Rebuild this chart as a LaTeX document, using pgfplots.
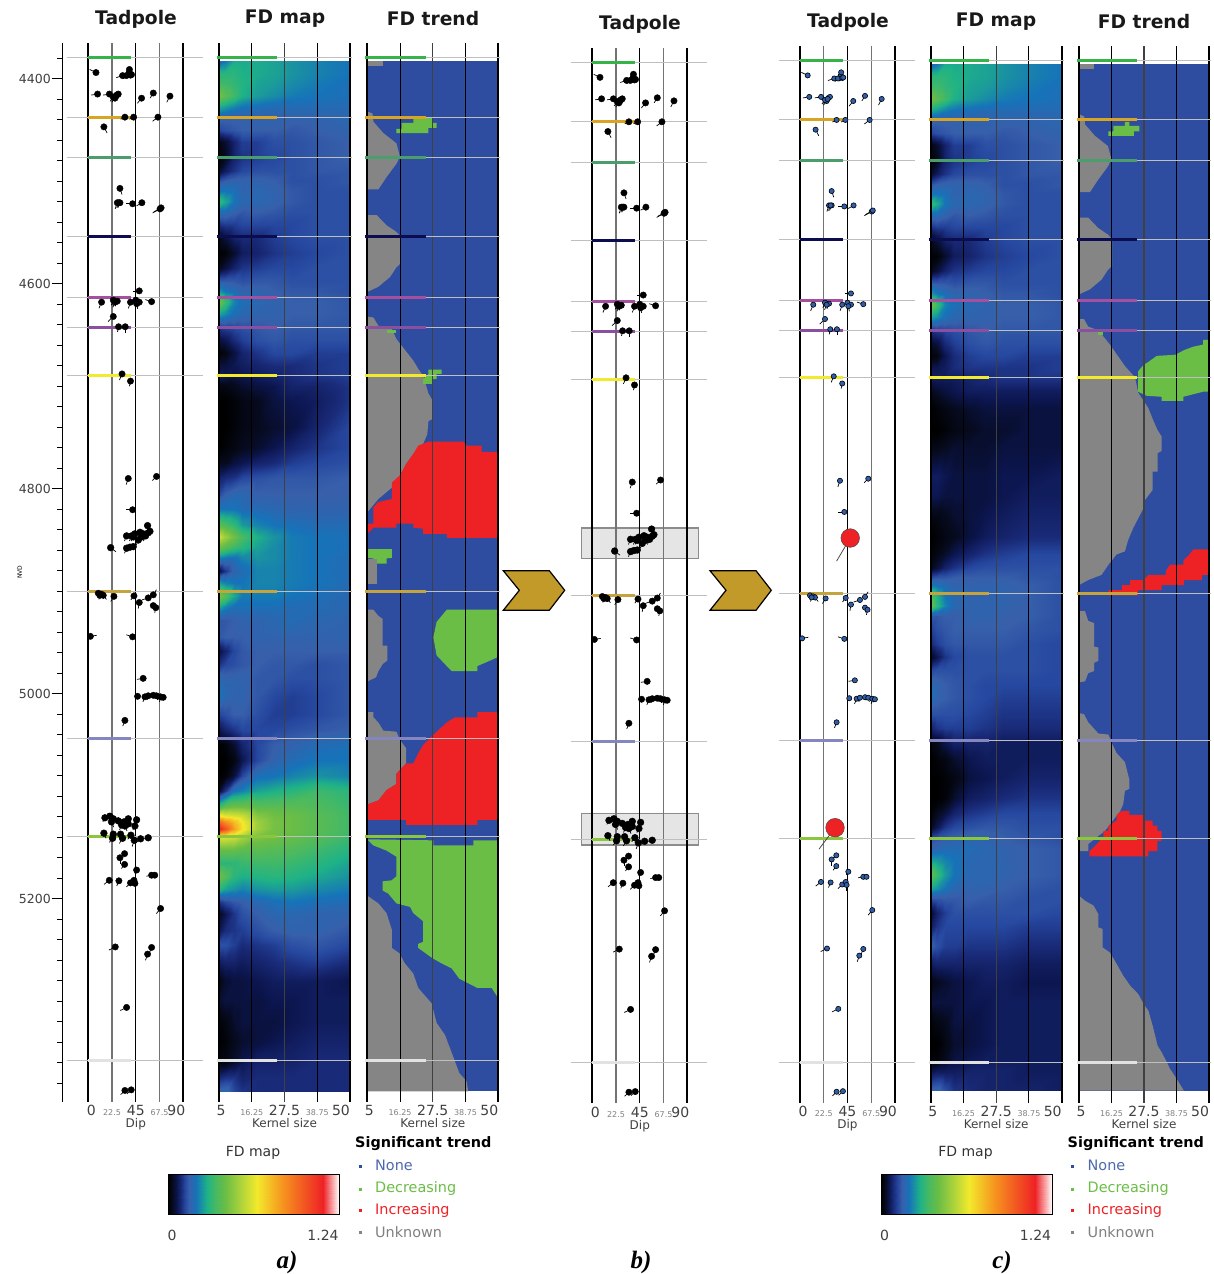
\documentclass[border=0pt]{standalone}
\usepackage{pgfplots}
\usepackage{pgfplotstable}
\usepackage{fontspec}
\pgfplotsset{compat=1.18}
\setmainfont{DejaVu Sans}
\newfontfamily\capfont{Liberation Serif}
\newcommand\fs[1]{\fontsize{#1}{#1}\selectfont}
\definecolor{tblue}{RGB}{46,77,160}
\definecolor{tgray}{RGB}{133,133,133}
\definecolor{tgreen}{RGB}{106,189,69}
\definecolor{tred}{RGB}{238,33,37}
\definecolor{tadblue}{RGB}{47,95,170}
\definecolor{hz1}{RGB}{54,180,74}
\definecolor{hz2}{RGB}{217,164,34}
\definecolor{hz3}{RGB}{75,158,107}
\definecolor{hz4}{RGB}{12,12,80}
\definecolor{hz5}{RGB}{165,80,159}
\definecolor{hz6}{RGB}{138,79,158}
\definecolor{hz7}{RGB}{242,234,44}
\definecolor{hz8}{RGB}{197,164,64}
\definecolor{hz9}{RGB}{133,133,192}
\definecolor{hz10}{RGB}{140,198,63}
\definecolor{hz11}{RGB}{226,226,226}
\pgfplotsset{colormap={fd}{
 rgb255(0cm)=(0,0,0); rgb255(3cm)=(6,10,28); rgb255(6cm)=(12,22,80); rgb255(9cm)=(25,42,120);
 rgb255(12cm)=(38,72,160); rgb255(15cm)=(55,95,170); rgb255(20cm)=(22,115,185); rgb255(28cm)=(30,178,135);
 rgb255(34cm)=(70,185,100); rgb255(41cm)=(106,189,69); rgb255(52cm)=(170,210,60); rgb255(64cm)=(243,233,44);
 rgb255(83cm)=(246,146,30); rgb255(112cm)=(238,33,37); rgb255(124cm)=(255,255,255)}}
% tadpoles: dip, depth, tail u, tail v
\pgfplotstableread{
dip depth u v
7.3 4394 -6 -3
32.5 4397 -6 2
38.8 4394 -3 3
36 4397 -3 3
40 4396.5 -3 3
39 4391 -3 3
41 4396 -3 3
8.8 4415 -6 1
20 4415 -6 1
25.3 4419 -3 4
27 4416 -3 4
28.4 4415 -3 4
23.7 4418 -3 4
26.2 4417 -3 4
50.5 4419 -4 5
61.6 4414 -3 5
77.4 4417 -3 6
34.7 4437.5 -4 2
43 4437.5 -4 2
66 4437.5 -5 4
14.8 4447 3 6
30 4507 2 6
27.5 4521 -2 6
30 4521 -2 5
29 4521 -2 5
42 4522 -6 0
50.8 4521 -5 3
68 4527 -7 4
69 4526 -7 4
48.3 4607 -6 0
12.6 4618 -2.5 6
23.7 4616 -2 5
27.5 4617 -2 5
25.3 4618 -2 5
40 4618 -2 6
45 4616 2 5
48.3 4618 -2 4
45.8 4619.5 1 5
60 4617.5 -6 -2
23.7 4632 -5 5
28.7 4642 -1 5
35 4642 0 6
32 4688 -2.5 6
40 4695 -1 5
37.9 4790 -2 6
64.7 4788 -4 4
42 4820.5 -6 0
9.5 4902 2 4
12.6 4903 2 4
14.2 4904 3 4
11 4904 -1 4
24.3 4905 -3 5
43.3 4904.5 -3 4
61.6 4903.5 3 -5
56.8 4906.5 -6 2
48.3 4911 -1 6
61.6 4914 1 5
64 4916 -1 5
2 4944 6 -1
42 4944.5 -6 -2
52 4985 -6 1
46.7 5002.5 -1 2
53.7 5003 -2 5
56.8 5002 -1 4
61.6 5001.5 1 3
64.7 5002 1 4
68.5 5003 -1 5
71 5003.5 -2 3
34.7 5026 -2 5.5
34.4 5156 -3 3
30 5160 0 6
34.4 5166.5 -3 4
45.8 5172 -2 3
60 5177 -5 1
63 5177 -5 1
19.9 5182 -5 4
29 5182.5 -2 5
40 5184.5 -4 4
43.3 5182 -2 3
44.2 5185 0 6
68.5 5209.5 -4 5
25.6 5247 -6 3
60 5247.5 -2 5
56.2 5254 -2 6
36.3 5306 -6 3
34.7 5387 -4 4
40.7 5386.4 -4 4
}\tadMain
\pgfplotstableread{
dip depth u v
56.2 4836 2 4
36.3 4846 -2 5
41 4846 -2 5
44.2 4844 -3 4
49 4842.5 -2 5
52 4844 -2 5
50.5 4847 -2 5
56.8 4843 -2 4
58.4 4841.5 -2 4
47.4 4850 -2 5
42.6 4847 -2 4
54.3 4846 -2 5
21.2 4857.5 5 4
36.3 4858 -2 5
39.5 4857 -2 4
42.6 4856.5 -2 3
15.8 5121 -2 4
20.5 5119.5 -2 -3
22 5125 2 5
28.4 5124 2 5
31.6 5128 -2 5
33.8 5125 1 5
34.7 5129 2 5
37.9 5122 -2 5
45.8 5123 -3 4
44.2 5129 -2 4
23.7 5122 -2 5
37.9 5127 -2 5
14.8 5136 2 5
23.7 5137 -1 5
23 5141 -3 4
30.6 5137 -1 5
32.5 5141 -3 5
40.4 5138 -3 4
43.6 5143 -2 6
49.6 5141.5 -3 3
56.8 5140.5 -4 1
}\tadCluster
% FD map rows: depth: kernel 5 7 10 13 18 24 30 38 50
\def\curdepth{}
\def\FDadd#1#2{\xdef\FDlist{\FDlist(#1,\curdepth,#2)}}
\def\R#1:#2 #3 #4 #5 #6 #7 #8 #9 {\def\curdepth{#1}\FDadd{5}{#2}\FDadd{7}{#3}\FDadd{10}{#4}\FDadd{13}{#5}\FDadd{18}{#6}\FDadd{24}{#7}\FDadd{30}{#8}\FDadd{38}{#9}\Rlast}
\def\Rlast#1;{\FDadd{50}{#1}}
\def\TopRows{%
\R 4383:.17 .2 .27 .27 .27 .26 .24 .22 .2;%
\R 4395:.30 .3 .3 .28 .27 .26 .24 .22 .2;%
\R 4405:.33 .33 .31 .29 .26 .25 .23 .21 .19;%
\R 4417:.43 .38 .33 .28 .25 .23 .21 .2 .19;%
\R 4428:.27 .25 .22 .2 .19 .18 .18 .18 .18;%
\R 4437:.17 .16 .16 .16 .16 .16 .16 .16 .17;%
\R 4450:.12 .13 .14 .15 .15 .15 .14 .15 .16;%
\R 4462:.02 .04 .08 .11 .11 .13 .13 .14 .15;%
\R 4477:.01 .03 .08 .1 .11 .12 .13 .14 .15;%
\R 4490:.04 .07 .1 .12 .13 .13 .13 .14 .14;%
\R 4500:.13 .15 .16 .16 .16 .15 .13 .13 .14;%
\R 4510:.2 .2 .19 .16 .17 .16 .14 .13 .13;%
\R 4520:.32 .27 .2 .17 .17 .16 .14 .13 .13;%
\R 4530:.18 .18 .16 .14 .15 .14 .13 .13 .13;%
\R 4542:.1 .11 .11 .12 .12 .12 .12 .13 .13;%
\R 4554:.03 .05 .08 .09 .09 .11 .12 .13 .13;%
\R 4570:.005 .01 .04 .07 .08 .1 .11 .12 .13;%
\R 4585:.03 .05 .08 .1 .11 .12 .12 .13 .13;%
\R 4597:.14 .14 .14 .13 .14 .14 .13 .13 .13;%
\R 4607:.24 .2 .18 .16 .16 .15 .14 .14 .13;%
\R 4618:.42 .33 .22 .19 .17 .16 .15 .15 .14;%
\R 4630:.26 .23 .19 .17 .16 .16 .15 .15 .14;%
\R 4643:.1 .11 .12 .13 .14 .15 .14 .14 .14;%
}
\gdef\FDlist{}
\TopRows
\R 4655:.05 .06 .09 .11 .13 .14 .13 .13 .13;
\R 4668:.01 .02 .05 .08 .1 .12 .12 .11 .11;
\R 4680:.05 .05 .06 .07 .08 .09 .09 .1 .11;
\R 4690:.07 .06 .05 .06 .07 .08 .09 .1 .11;
\R 4700:.02 .02 .03 .04 .05 .06 .08 .08 .1;
\R 4714:0 0 .01 .02 .03 .05 .06 .07 .1;
\R 4740:0 0 .01 .02 .03 .04 .05 .08 .12;
\R 4760:0 .01 .02 .03 .04 .06 .08 .1 .12;
\R 4775:.03 .03 .05 .06 .08 .09 .11 .12 .13;
\R 4790:.08 .09 .1 .12 .13 .14 .14 .14 .15;
\R 4805:.12 .15 .17 .17 .15 .15 .15 .15 .15;
\R 4820:.2 .2 .2 .18 .18 .17 .16 .16 .16;
\R 4835:.38 .35 .31 .25 .22 .2 .19 .18 .18;
\R 4847:.58 .5 .42 .35 .28 .24 .21 .2 .19;
\R 4857:.42 .38 .33 .3 .26 .23 .21 .2 .19;
\R 4868:.22 .2 .19 .22 .24 .23 .21 .2 .18;
\R 4880:.05 .1 .16 .18 .22 .22 .21 .2 .18;
\R 4892:.25 .22 .2 .2 .22 .22 .21 .2 .18;
\R 4905:.45 .38 .27 .21 .21 .21 .2 .19 .17;
\R 4915:.26 .22 .19 .19 .19 .19 .18 .18 .17;
\R 4928:.14 .14 .15 .16 .16 .17 .18 .17 .16;
\R 4945:.14 .15 .15 .15 .16 .16 .16 .16 .16;
\R 4958:.05 .08 .12 .14 .15 .15 .15 .15 .15;
\R 4972:.1 .12 .13 .14 .15 .14 .14 .13 .14;
\R 4985:.17 .16 .16 .16 .14 .14 .13 .13 .14;
\R 5003:.2 .17 .16 .16 .14 .12 .11 .12 .14;
\R 5020:.12 .13 .15 .15 .13 .11 .11 .12 .14;
\R 5035:.06 .08 .1 .12 .12 .12 .13 .14 .15;
\R 5050:0 .01 .04 .08 .12 .15 .16 .18 .19;
\R 5065:0 0 .02 .06 .12 .16 .18 .2 .2;
\R 5080:0 .01 .05 .12 .19 .2 .22 .24 .22;
\R 5095:.04 .1 .2 .22 .26 .28 .3 .33 .3;
\R 5110:.34 .4 .42 .42 .38 .38 .38 .36 .32;
\R 5119:.66 .62 .6 .58 .46 .42 .41 .38 .33;
\R 5125:.95 .85 .74 .64 .5 .43 .41 .38 .33;
\R 5132:1.12 1.0 .8 .66 .5 .43 .41 .38 .33;
\R 5140:.6 .6 .58 .52 .44 .42 .4 .37 .32;
\R 5152:.4 .4 .4 .38 .38 .37 .36 .33 .29;
\R 5165:.3 .3 .3 .32 .33 .33 .32 .3 .26;
\R 5178:.42 .37 .3 .28 .29 .3 .29 .27 .24;
\R 5190:.3 .26 .24 .22 .24 .25 .25 .23 .21;
\R 5203:.1 .12 .14 .15 .17 .19 .2 .19 .18;
\R 5215:.03 .06 .1 .13 .15 .17 .17 .16 .16;
\R 5230:.06 .09 .1 .11 .13 .15 .16 .16 .14;
\R 5245:.13 .13 .11 .09 .1 .11 .13 .14 .12;
\R 5262:.07 .08 .08 .07 .08 .09 .1 .11 .09;
\R 5280:.02 .04 .05 .05 .06 .07 .07 .07 .06;
\R 5300:.04 .05 .05 .05 .05 .06 .06 .07 .07;
\R 5320:.01 .02 .04 .05 .05 .05 .06 .07 .07;
\R 5340:0 .01 .03 .04 .05 .06 .07 .08 .08;
\R 5360:.02 .02 .04 .06 .08 .08 .08 .09 .09;
\R 5375:.09 .1 .1 .08 .09 .09 .09 .09 .09;
\R 5388:.16 .17 .12 .1 .09 .09 .09 .09 .09;
\let\FDa\FDlist
\gdef\FDlist{}
\TopRows
\R 4655:.04 .05 .09 .11 .13 .14 .13 .13 .13;
\R 4668:.01 .02 .06 .09 .11 .12 .12 .11 .11;
\R 4680:.06 .06 .07 .09 .1 .1 .1 .1 .11;
\R 4690:.07 .07 .07 .07 .08 .09 .1 .1 .1;
\R 4702:.03 .04 .05 .06 .07 .07 .07 .07 .07;
\R 4720:0 .01 .02 .03 .04 .05 .05 .05 .05;
\R 4740:0 0 .01 .02 .03 .04 .04 .05 .05;
\R 4755:.02 .02 .03 .04 .04 .04 .05 .05 .05;
\R 4785:.07 .07 .06 .05 .05 .05 .06 .06 .07;
\R 4805:.06 .06 .05 .05 .05 .05 .06 .07 .07;
\R 4825:.02 .02 .03 .04 .05 .06 .07 .08 .08;
\R 4845:0 .01 .02 .03 .05 .07 .08 .09 .09;
\R 4862:.01 .02 .04 .06 .08 .1 .11 .12 .12;
\R 4875:.03 .05 .08 .1 .12 .13 .13 .13 .13;
\R 4885:.13 .14 .14 .15 .15 .15 .15 .14 .13;
\R 4893:.22 .2 .18 .16 .16 .16 .16 .15 .13;
\R 4902:.36 .28 .2 .17 .16 .16 .16 .15 .13;
\R 4912:.4 .3 .22 .17 .16 .16 .16 .15 .13;
\R 4922:.14 .14 .15 .15 .16 .16 .15 .15 .13;
\R 4935:.11 .13 .14 .15 .15 .15 .15 .14 .13;
\R 4950:.09 .11 .13 .14 .14 .14 .14 .13 .12;
\R 4962:.03 .06 .1 .12 .13 .13 .13 .13 .12;
\R 4975:.12 .13 .13 .13 .13 .13 .13 .13 .12;
\R 4990:.17 .16 .15 .14 .13 .12 .12 .12 .12;
\R 5002:.19 .16 .15 .14 .13 .12 .11 .11 .11;
\R 5018:.13 .13 .13 .13 .12 .11 .1 .1 .1;
\R 5032:.08 .1 .11 .11 .11 .1 .09 .09 .09;
\R 5045:.02 .03 .06 .08 .08 .08 .07 .07 .07;
\R 5062:0 .01 .02 .04 .06 .07 .07 .07 .07;
\R 5080:0 0 .01 .02 .05 .06 .07 .08 .08;
\R 5100:0 0 .01 .04 .07 .08 .09 .1 .1;
\R 5115:.01 .03 .05 .08 .1 .11 .12 .12 .12;
\R 5128:.03 .06 .1 .12 .13 .14 .14 .13 .13;
\R 5140:.13 .14 .15 .16 .17 .16 .15 .14 .13;
\R 5150:.16 .17 .18 .18 .18 .17 .16 .15 .14;
\R 5162:.26 .25 .22 .2 .17 .17 .16 .15 .14;
\R 5175:.4 .32 .25 .2 .17 .17 .16 .15 .14;
\R 5188:.27 .24 .2 .17 .16 .16 .15 .14 .13;
\R 5200:.12 .13 .14 .14 .15 .14 .14 .13 .13;
\R 5212:.04 .08 .11 .13 .13 .13 .13 .13 .12;
\R 5225:.07 .1 .12 .12 .12 .12 .12 .11 .11;
\R 5245:.15 .13 .11 .11 .1 .1 .1 .09 .09;
\R 5262:.07 .08 .08 .08 .08 .08 .08 .07 .07;
\R 5280:.02 .03 .04 .05 .06 .07 .07 .06 .06;
\R 5300:.05 .05 .05 .05 .06 .06 .07 .07 .07;
\R 5320:.01 .02 .03 .05 .05 .06 .07 .07 .07;
\R 5340:0 0 .02 .04 .05 .06 .07 .07 .07;
\R 5355:.01 .01 .03 .05 .06 .07 .07 .07 .07;
\R 5368:.06 .07 .07 .07 .08 .08 .08 .07 .07;
\R 5386:.16 .17 .13 .1 .09 .08 .08 .08 .07;
\let\FDc\FDlist
% styles
\pgfplotsset{
 panel/.style={scale only axis,clip=false,anchor=south west,ymin=4365.2,ymax=5398,y dir=reverse,
   axis y line=none,axis x line*=bottom,x axis line style={draw=none},major tick length=0pt,
   xticklabel style={inner sep=0pt,yshift=-3.5pt,text height=10pt,text depth=0pt},
   every axis x label/.style={at={(axis cs:\labx,5398)},anchor=north,yshift=-13pt,font=\fs{12}\color{black!75}}},
 tadaxis/.style={panel,width=141pt,xmin=-24.9,xmax=108.7,xtick={0,22.5,45,67.5,90},
   xticklabels={\kern6pt{\fs{14}\color{black!75}0},{\fs{8}\color{black!50}22.5},{\fs{14}\color{black!75}45},{\fs{8}\color{black!50}67.5},{\fs{14}\color{black!75}90}\kern14pt},xlabel={Dip}},
 kaxis/.style={panel,width=131pt,xmin=5,xmax=50,xtick={5,16.25,27.5,38.75,50},
   xticklabels={\kern4pt{\fs{14}\color{black!75}5},{\fs{8}\color{black!50}16.25},{\fs{14}\color{black!75}27.5},{\fs{8}\color{black!50}38.75},{\fs{14}\color{black!75}50}\kern18pt},xlabel={Kernel size}},
 mapaxis/.style={scale only axis,anchor=south west,width=131pt,xmin=5,xmax=50,ymin=4365.2,ymax=5398,y dir=reverse,
   view={0}{90},hide axis,colormap name=fd,point meta min=0,point meta max=1.24},
}
\newcommand\VL[2]{\addplot[#1] coordinates {(#2,4365.2)(#2,5398)};}
\newcommand\TadGrid{\VL{black,line width=2pt}{0}\VL{black!55,line width=1.1pt}{22.5}\VL{black,line width=1pt}{45}\VL{black!55,line width=1.1pt}{67.5}\VL{black,line width=2pt}{90}}
\newcommand\KGrid{\VL{black,line width=2pt}{5}\VL{black,line width=1pt}{16.25}\VL{black!75,line width=1.1pt}{27.5}\VL{black,line width=1pt}{38.75}\VL{black,line width=2pt}{50}}
\newcommand\HZ[2]{\addplot[black!25,line width=1pt] coordinates {(\tL,#2)(\tR,#2)};\addplot[#1,line width=3pt] coordinates {(\kL,#2)(\kR,#2)};}
\newcommand\Horizons{\HZ{hz1}{4379}\HZ{hz2}{4437.5}\HZ{hz3}{4477}\HZ{hz4}{4554}\HZ{hz5}{4613.7}\HZ{hz6}{4643}\HZ{hz7}{4689.6}\HZ{hz8}{4900.6}\HZ{hz9}{5043.5}\HZ{hz10}{5139.3}\HZ{hz11}{5358}}
\newcommand\Poly[2]{\addplot[fill=#1,draw=none] coordinates {#2};}
\newcommand\TadAll{%
 \addplot[black,line width=.7pt,quiver={u=\thisrow{u},v=\thisrow{v}}] table[x=dip,y=depth] {\tadMain};
 \addplot[black,line width=.7pt,quiver={u=\thisrow{u},v=\thisrow{v}}] table[x=dip,y=depth] {\tadCluster};
 \addplot[only marks,mark=*,mark size=3.2pt,black] table[x=dip,y=depth] {\tadMain};
 \addplot[only marks,mark=*,mark size=3.4pt,black] table[x=dip,y=depth] {\tadCluster};}
\newcommand\TadSettings{\def\tL{-20}\def\tR{108.7}\def\kL{0}\def\kR{40.5}\def\labx{45}}
\newcommand\KSettings{\def\tL{4.3}\def\tR{50.7}\def\kL{4.3}\def\kR{25}\def\labx{27.5}}
\newcommand\TrendShared{%
 \Poly{tgray}{(5,4383)(10.3,4383)(10.3,4387.5)(5,4387.5)}%
 \Poly{tgray}{(5,4432)(6.8,4434)(7.1,4442)(10.5,4453)(15,4463)(16.2,4476)(15,4483)(11.6,4496)(8.8,4508)(5,4508)}%
 \Poly{tgray}{(5,4533)(8.2,4533)(11.6,4543)(15,4549.5)(16.5,4554)(16.5,4580)(15,4584)(12.8,4593.5)(8.8,4603)(5,4608)}%
}
\newcommand\PlotMap[1]{\edef\temp{\noexpand\addplot3[surf,shader=interp,mesh/cols=9] coordinates {#1};}\temp}
\begin{document}
\begin{tikzpicture}[x=1pt,y=-1pt]
\path[use as bounding box] (0,0) rectangle (1214,1274);
% ---------- panel a
\begin{axis}[scale only axis,anchor=south west,clip=false,at={(62pt,-1101.7pt)},width=141pt,height=1058.7pt,
  xmin=-24.9,xmax=108.7,ymin=4365.2,ymax=5398,y dir=reverse,hide x axis,axis y line*=left,
  y axis line style={black,line width=.8pt},
  ytick={4400,4600,4800,5000,5200},minor ytick={4380,4420,4440,4460,4480,4500,4520,4540,4560,4580,4620,4640,4660,4680,4700,4720,4740,4760,4780,4820,4840,4860,4880,4900,4920,4940,4960,4980,5020,5040,5060,5080,5100,5120,5140,5160,5180,5220,5240,5260,5280,5300,5320,5340,5360,5380},
  ytick style={black,line width=.7pt},major tick length=10pt,minor tick length=5pt,
  tick align=outside,yticklabel style={font=\fs{12.5}\color{black!75},inner sep=1pt,/pgf/number format/.cd,1000 sep={},assume math mode=true},
  ylabel={NVD},ylabel style={font=\fs{6},at={(axis description cs:-0.3,0.5)},anchor=center,rotate=0}]
\addplot[draw=none] coordinates {(0,4400)};
\end{axis}
\begin{axis}[tadaxis,at={(62pt,-1101.7pt)},height=1058.7pt]
\TadSettings
\TadGrid \Horizons \TadAll
\end{axis}
\begin{axis}[mapaxis,at={(219pt,-1101.7pt)},height=1058.7pt] \PlotMap{\FDa} \end{axis}
\begin{axis}[kaxis,at={(219pt,-1101.7pt)},height=1058.7pt]
\KSettings \KGrid \Horizons
\end{axis}
\begin{axis}[kaxis,at={(367.3pt,-1101.7pt)},height=1058.7pt]
\KSettings
\Poly{tblue}{(5,4383)(50,4383)(50,5388)(5,5388)}
\TrendShared
\Poly{tgray}{(5,4632)(7.1,4633)(8.8,4641)(13.4,4644)(15,4654)(20.8,4675)(22.5,4683)(24.2,4690)(26,4707)(27.4,4714)(27.4,4732)(26,4734)(25.6,4747)(24.2,4756)(20.8,4766)(18.3,4776)(16.2,4787)(13.4,4799)(8.8,4810)(5,4823)}
\Poly{tred}{(5,4844)(5,4834)(7.1,4834)(7.1,4818)(8.8,4813)(13.4,4810)(13.4,4794)(16.2,4787)(18.3,4776)(20.8,4766)(22.5,4758)(26,4754)(38,4754)(39.1,4758)(44.3,4758)(44.3,4764)(50,4764)(50,4848)(32.3,4848)(32.3,4844)(24.2,4844)(24.2,4839)(20.8,4838)(20.8,4834)(15,4834)(15,4838)(7.1,4838)}
\Poly{tgreen}{(5,4859)(13.4,4859)(13.4,4867.5)(11.6,4868)(11.6,4873)(7.1,4873)(7.1,4868)(5,4867.5)}
\Poly{tgray}{(5,4868.5)(8.5,4868.5)(8.5,4893)(5,4893)}
\Poly{tgreen}{(32.3,4918)(50,4918)(50,4964)(47.7,4967)(42.8,4973)(42.8,4978)(34,4978)(32.3,4973)(28.8,4962.5)(27.7,4945)(28.8,4930)}
\Poly{tgray}{(5,4918)(7.1,4918)(8.8,4924)(10.3,4927)(10.3,4953)(11.9,4953)(11.9,4967.5)(10.3,4971)(8.8,4978)(8,4984)(5,4988)}
\Poly{tgray}{(5,5018)(7.1,5018)(7.1,5023)(8.8,5028)(10.5,5036)(15,5037)(16.2,5045)(18.3,5053)(18.3,5068)(15,5078)(15,5088)(11.6,5094)(8.8,5104)(5,5108)}
\Poly{tred}{(50,5018)(42.8,5018)(42.8,5023)(35.1,5023)(32.3,5028)(28.8,5037)(24.2,5050)(22.5,5058)(20.8,5068)(18.3,5068)(15,5078)(15,5088)(11.6,5094)(8.8,5104)(5,5108)(5,5123)(18.3,5123)(18.3,5128)(42.8,5128)(42.8,5123)(50,5123)}
\Poly{tgreen}{(5,5142)(7.1,5148)(11.6,5153)(15,5159)(15,5178)(13.4,5182)(10.3,5183)(10.3,5192)(12.2,5195)(15,5204.5)(19.7,5208)(20.8,5214)(24.2,5222)(24.2,5242)(22.5,5244)(22.5,5248)(27.4,5258)(30.5,5263)(34,5268)(36.6,5278)(39.7,5282.5)(42.8,5287)(47.7,5287)(50,5297)(50,5143)(41.4,5143)(41.4,5148)(27.7,5148)(27.7,5143)}
\Poly{tgray}{(5,5197)(8.8,5204.5)(11.6,5214)(13.4,5230)(13.4,5248)(16,5253)(17.9,5263)(20.8,5273)(22.5,5287)(27.1,5302)(28.8,5321)(31.7,5333)(34.5,5354)(36.6,5370)(39.1,5378)(39.7,5388)(5,5388)}
\Poly{tgreen}{(15,4453)(15,4449)(16.8,4449)(16.8,4443)(20.8,4443)(20.8,4438)(27.4,4438)(27.4,4443)(28.8,4443)(28.8,4448)(26,4448)(26,4453)}
\Poly{tgreen}{(11.9,4645.6)(15,4645.6)(15,4648)(11.9,4648)}
\Poly{tgreen}{(26,4683.7)(30.5,4683.7)(30.5,4688)(28.8,4688)(28.8,4693)(27.4,4693)(27.4,4697.7)(24.2,4697.7)(24.2,4693)(26,4688)}
\KGrid \Horizons
\end{axis}
% ---------- panel b
\draw[fill=black!10,draw=black!45,line width=1.5pt] (581.7,528) rectangle (698.3,558.3);
\draw[fill=black!10,draw=black!45,line width=1.5pt] (581.7,813.3) rectangle (698.3,845);
\begin{axis}[tadaxis,at={(566pt,-1103.4pt)},height=1055.5pt]
\TadSettings
\TadGrid \Horizons \TadAll
\end{axis}
% ---------- panel c
\begin{axis}[tadaxis,at={(773.7pt,-1103pt)},height=1057.1pt]
\TadSettings
\TadGrid \Horizons
\addplot[black,line width=.7pt,quiver={u=\thisrow{u},v=\thisrow{v}}] table[x=dip,y=depth] {\tadMain};
\addplot[only marks,mark=*,mark size=2.6pt,fill=tadblue,draw=black,line width=.6pt] table[x=dip,y=depth] {\tadMain};
\addplot[black!70,line width=.8pt,quiver={u=\thisrow{u},v=\thisrow{v}}] table[x=dip,y=depth] {
dip depth u v
47.6 4846 -12.9 22.5
33.2 5129 -15.2 21
};
\addplot[only marks,mark=*,mark size=9.3pt,fill=tred,draw=black!70,line width=.5pt] coordinates {(47.6,4846)(33.2,5129)};
\end{axis}
\begin{axis}[mapaxis,at={(930.7pt,-1103pt)},height=1057.1pt] \PlotMap{\FDc} \end{axis}
\begin{axis}[kaxis,at={(930.7pt,-1103pt)},height=1057.1pt]
\KSettings \KGrid \Horizons
\end{axis}
\begin{axis}[kaxis,at={(1079pt,-1103pt)},width=130pt,height=1057.1pt]
\KSettings
\Poly{tblue}{(5,4383)(50,4383)(50,5386)(5,5386)}
\TrendShared
\Poly{tgray}{(5,4632)(6.7,4632)(8.2,4639.5)(11.7,4643)(15.7,4657)(20.9,4678)(24.4,4689)(25.5,4704)(29,4719)(30.7,4731)(32.1,4740)(33.6,4747)(33.6,4761)(32.2,4763)(32.2,4781)(30.5,4781)(30.5,4799)(27.8,4809)(27.3,4817)(23.8,4836)(22,4848)(20.9,4859)(18,4862)(15.2,4872)(12.8,4882)(8.2,4887)(5,4892)}
\Poly{tgreen}{(50,4652.5)(48,4652.5)(48,4657)(44.6,4659)(41.7,4662)(38.2,4667)(31.9,4668)(29,4674)(27.3,4677)(25.5,4683)(25.5,4703)(28.4,4707)(33.6,4708)(33.6,4712)(41.1,4712)(41.1,4708)(48,4703)(50,4703)}
\Poly{tgreen}{(15.2,4453)(15.2,4448.6)(16.9,4448.6)(16.9,4443.4)(20.9,4443.4)(20.9,4439.5)(22.4,4439.5)(22.4,4443.4)(25.9,4443.4)(25.9,4448.6)(24,4448.6)(24,4453)}
\Poly{tgreen}{(11.7,4644.3)(13.2,4644.3)(13.2,4647.6)(11.7,4647.6)}
\Poly{tred}{(15.2,4897)(19.8,4897)(19.8,4892)(22.7,4892)(22.7,4887)(27.3,4887)(29,4882)(35.1,4882)(35.1,4878)(36.5,4872)(41.1,4872)(41.1,4868)(43.2,4862)(44.6,4857)(50,4857)(50,4882)(47.5,4882)(47.5,4887)(41.3,4887)(41.3,4892)(33.6,4892)(33.6,4897)(25.5,4897)(25.5,4902)(15.2,4902)}
\Poly{tgray}{(5,4917.5)(7.1,4917.5)(8.2,4927)(10.2,4929)(10.2,4952)(11.7,4953)(11.7,4966)(10.2,4968)(10.2,4976)(8.2,4978)(7.1,4986)(5,4987)}
\Poly{tgray}{(5,5017)(6.7,5018)(8.2,5026)(11.7,5037)(15.2,5038)(16.3,5046)(18,5056)(20.9,5065)(22.4,5082)(22.4,5091)(20.9,5093)(20.3,5106)(19.2,5113)(14,5132)(8.2,5145)(8.2,5152)(5,5152)}
\Poly{tred}{(8.6,5157)(8.6,5152)(10.5,5147)(13.4,5138)(13.4,5132)(15.2,5132)(15.2,5127)(18,5122)(18,5116.5)(19.8,5112.6)(22.4,5112.6)(22.4,5116.5)(27.3,5116.5)(27.3,5122)(30.5,5122)(30.5,5127)(32.1,5127)(32.1,5132)(33.6,5132)(33.6,5142)(32.1,5142)(32.1,5152)(29,5152)(29,5157)}
\Poly{tgray}{(5,5195.5)(7.1,5200.4)(10,5205)(11.7,5213.4)(11.7,5226.4)(13.2,5228)(13.2,5246)(15.7,5251)(18,5262)(20.3,5273.6)(22.7,5283.3)(25.5,5291.5)(27.3,5301)(29,5307.7)(30.5,5322.4)(32.2,5342)(33.6,5348.4)(35.1,5356.5)(36.5,5364.6)(38.8,5374.4)(41.3,5386)(5,5386)}
\KGrid \Horizons
\end{axis}
% ---------- colour bars
\begin{axis}[at={(168.3pt,-1214pt)},scale only axis,anchor=south west,width=171pt,height=39.7pt,xmin=0,xmax=1.24,ymin=0,ymax=1,view={0}{90},hide axis,colormap name=fd,point meta min=0,point meta max=1.24]
\addplot3[surf,shader=interp,mesh/cols=15,point meta=x] coordinates {(0,0,0)(.03,0,0)(.06,0,0)(.09,0,0)(.12,0,0)(.15,0,0)(.2,0,0)(.28,0,0)(.34,0,0)(.41,0,0)(.52,0,0)(.64,0,0)(.83,0,0)(1.12,0,0)(1.24,0,0)(0,1,0)(.03,1,0)(.06,1,0)(.09,1,0)(.12,1,0)(.15,1,0)(.2,1,0)(.28,1,0)(.34,1,0)(.41,1,0)(.52,1,0)(.64,1,0)(.83,1,0)(1.12,1,0)(1.24,1,0)};
\end{axis}
\begin{axis}[at={(881pt,-1214pt)},scale only axis,anchor=south west,width=171pt,height=39.7pt,xmin=0,xmax=1.24,ymin=0,ymax=1,view={0}{90},hide axis,colormap name=fd,point meta min=0,point meta max=1.24]
\addplot3[surf,shader=interp,mesh/cols=15,point meta=x] coordinates {(0,0,0)(.03,0,0)(.06,0,0)(.09,0,0)(.12,0,0)(.15,0,0)(.2,0,0)(.28,0,0)(.34,0,0)(.41,0,0)(.52,0,0)(.64,0,0)(.83,0,0)(1.12,0,0)(1.24,0,0)(0,1,0)(.03,1,0)(.06,1,0)(.09,1,0)(.12,1,0)(.15,1,0)(.2,1,0)(.28,1,0)(.34,1,0)(.41,1,0)(.52,1,0)(.64,1,0)(.83,1,0)(1.12,1,0)(1.24,1,0)};
\end{axis}
\draw[black,line width=.8pt] (168.3,1174.3) rectangle (339.3,1214);
\draw[black,line width=.8pt] (881,1174.3) rectangle (1052,1214);
% ---------- chevrons
\draw[fill={rgb,255:red,194;green,154;blue,42},draw=black,line width=1.2pt,line join=miter] (503.3,570.7)--(549.3,570.7)--(564.7,590.3)--(549.3,610.3)--(503.3,610.3)--(519.3,590.3)--cycle;
\draw[fill={rgb,255:red,194;green,154;blue,42},draw=black,line width=1.2pt,line join=miter] (710,570.7)--(756,570.7)--(771.3,590.3)--(756,610.3)--(710,610.3)--(726,590.3)--cycle;
% ---------- texts
\tikzset{ttl/.style={font=\fs{18.7}\bfseries,inner sep=0pt,text=black!90}}
\node[ttl] at (136,19) {Tadpole}; \node[ttl] at (285,19) {FD map}; \node[ttl] at (433,19) {FD trend};
\node[ttl] at (640,24) {Tadpole};
\node[ttl] at (848,22) {Tadpole}; \node[ttl] at (996,22) {FD map}; \node[ttl] at (1144,22) {FD trend};
\foreach \dx in {0,712.5}{
 \node[font=\fs{14},text=black!80,inner sep=0pt] at (253+\dx,1153) {FD map};
 \node[font=\fs{14},text=black!75,inner sep=0pt] at (172+\dx,1235.5) {0};
 \node[font=\fs{14},text=black!75,inner sep=0pt] at (323+\dx,1235.5) {1.24};
 \node[font=\fs{14.4}\bfseries,anchor=west,inner sep=0pt] at (355+\dx,1143.5) {Significant trend};
 \node[font=\fs{14.4},text=tblue!85,anchor=west,inner sep=0pt] at (375+\dx,1165.5) {None};
 \node[font=\fs{14.4},text=tgreen,anchor=west,inner sep=0pt] at (375+\dx,1189) {Decreasing};
 \node[font=\fs{14.4},text=tred,anchor=west,inner sep=0pt] at (375+\dx,1210.5) {Increasing};
 \node[font=\fs{14.4},text=black!50,anchor=west,inner sep=0pt] at (375+\dx,1232) {Unknown};
 \fill[tblue] (358.5+\dx,1164.5) rectangle +(3,3);
 \fill[tgreen] (358.5+\dx,1187.5) rectangle +(3,3);
 \fill[tred] (358.5+\dx,1209) rectangle +(3,3);
 \fill[tgray] (358.5+\dx,1230.5) rectangle +(3,3);
}
\node[font=\capfont\fs{25}\bfseries\itshape,inner sep=0pt] at (287,1262) {a)};
\node[font=\capfont\fs{25}\bfseries\itshape,inner sep=0pt] at (641,1262) {b)};
\node[font=\capfont\fs{25}\bfseries\itshape,inner sep=0pt] at (1002,1262) {c)};
\end{tikzpicture}
\end{document}
